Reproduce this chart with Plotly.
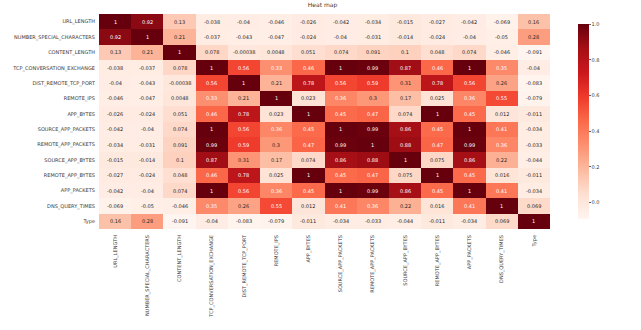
import plotly.graph_objects as go

labels = ["URL_LENGTH", "NUMBER_SPECIAL_CHARACTERS", "CONTENT_LENGTH",
          "TCP_CONVERSATION_EXCHANGE", "DIST_REMOTE_TCP_PORT", "REMOTE_IPS",
          "APP_BYTES", "SOURCE_APP_PACKETS", "REMOTE_APP_PACKETS",
          "SOURCE_APP_BYTES", "REMOTE_APP_BYTES", "APP_PACKETS",
          "DNS_QUERY_TIMES", "Type"]

corr = [
    [1, 0.92, 0.13, -0.038, -0.04, -0.046, -0.026, -0.042, -0.034, -0.015, -0.027, -0.042, -0.069, 0.16],
    [0.92, 1, 0.21, -0.037, -0.043, -0.047, -0.024, -0.04, -0.031, -0.014, -0.024, -0.04, -0.05, 0.28],
    [0.13, 0.21, 1, 0.078, -0.00038, 0.0048, 0.051, 0.074, 0.091, 0.1, 0.048, 0.074, -0.046, -0.091],
    [-0.038, -0.037, 0.078, 1, 0.56, 0.33, 0.46, 1, 0.99, 0.87, 0.46, 1, 0.35, -0.04],
    [-0.04, -0.043, -0.00038, 0.56, 1, 0.21, 0.78, 0.56, 0.59, 0.31, 0.78, 0.56, 0.26, -0.083],
    [-0.046, -0.047, 0.0048, 0.33, 0.21, 1, 0.023, 0.36, 0.3, 0.17, 0.025, 0.36, 0.55, -0.079],
    [-0.026, -0.024, 0.051, 0.46, 0.78, 0.023, 1, 0.45, 0.47, 0.074, 1, 0.45, 0.012, -0.011],
    [-0.042, -0.04, 0.074, 1, 0.56, 0.36, 0.45, 1, 0.99, 0.86, 0.45, 1, 0.41, -0.034],
    [-0.034, -0.031, 0.091, 0.99, 0.59, 0.3, 0.47, 0.99, 1, 0.88, 0.47, 0.99, 0.36, -0.033],
    [-0.015, -0.014, 0.1, 0.87, 0.31, 0.17, 0.074, 0.86, 0.88, 1, 0.075, 0.86, 0.22, -0.044],
    [-0.027, -0.024, 0.048, 0.46, 0.78, 0.025, 1, 0.45, 0.47, 0.075, 1, 0.45, 0.016, -0.011],
    [-0.042, -0.04, 0.074, 1, 0.56, 0.36, 0.45, 1, 0.99, 0.86, 0.45, 1, 0.41, -0.034],
    [-0.069, -0.05, -0.046, 0.35, 0.26, 0.55, 0.012, 0.41, 0.36, 0.22, 0.016, 0.41, 1, 0.069],
    [0.16, 0.28, -0.091, -0.04, -0.083, -0.079, -0.011, -0.034, -0.033, -0.044, -0.011, -0.034, 0.069, 1],
]

reds = [
    [0.0, "rgb(255,245,240)"], [0.125, "rgb(254,224,210)"], [0.25, "rgb(252,187,161)"],
    [0.375, "rgb(252,146,114)"], [0.5, "rgb(251,106,74)"], [0.625, "rgb(239,59,44)"],
    [0.75, "rgb(203,24,29)"], [0.875, "rgb(165,15,21)"], [1.0, "rgb(103,0,13)"],
]

font = "DejaVu Sans"
txt = "#3a3a3a"
fig = go.Figure()
fig.add_trace(go.Heatmap(
    z=corr, x=labels, y=labels, colorscale=reds,
    zmin=min(min(r) for r in corr), zmax=1.0,
    xgap=0, ygap=0,
    colorbar=dict(
        thickness=11, len=1.0, lenmode="fraction", y=0.5, yanchor="middle",
        x=1.0615, xanchor="left", xpad=0, outlinewidth=0,
        tickvals=[0.0, 0.2, 0.4, 0.6, 0.8, 1.0], tickformat=".1f",
        ticks="outside", ticklen=2, tickcolor="#666",
        tickfont=dict(family=font, size=5, color=txt),
    ),
    hoverinfo="skip",
))

annotations = []
for i, row in enumerate(corr):
    for j, v in enumerate(row):
        annotations.append(dict(
            x=labels[j], y=labels[i], xref="x", yref="y",
            text="{:.2g}".format(v), showarrow=False,
            font=dict(family=font, size=5, color="white" if v > 0.32 else "#262626"),
        ))

fig.update_layout(
    width=641, height=330,
    margin=dict(l=95, r=91, t=14, b=95),
    paper_bgcolor="white", plot_bgcolor="white",
    title=dict(text="Heat map", x=(95 + 550) / 2 / 641, xanchor="center",
               y=1 - 5 / 330, yanchor="middle",
               font=dict(family=font, size=6, color=txt)),
    annotations=annotations,
    xaxis=dict(tickangle=-90, tickfont=dict(family=font, size=5, color=txt),
               ticks="outside", ticklen=3, tickcolor="rgba(0,0,0,0)", showgrid=False,
               zeroline=False, showline=False),
    yaxis=dict(autorange="reversed", tickfont=dict(family=font, size=5, color=txt),
               ticks="outside", ticklen=2, tickcolor="rgba(0,0,0,0)", showgrid=False,
               zeroline=False, showline=False),
)

fig.write_html("out.html")
